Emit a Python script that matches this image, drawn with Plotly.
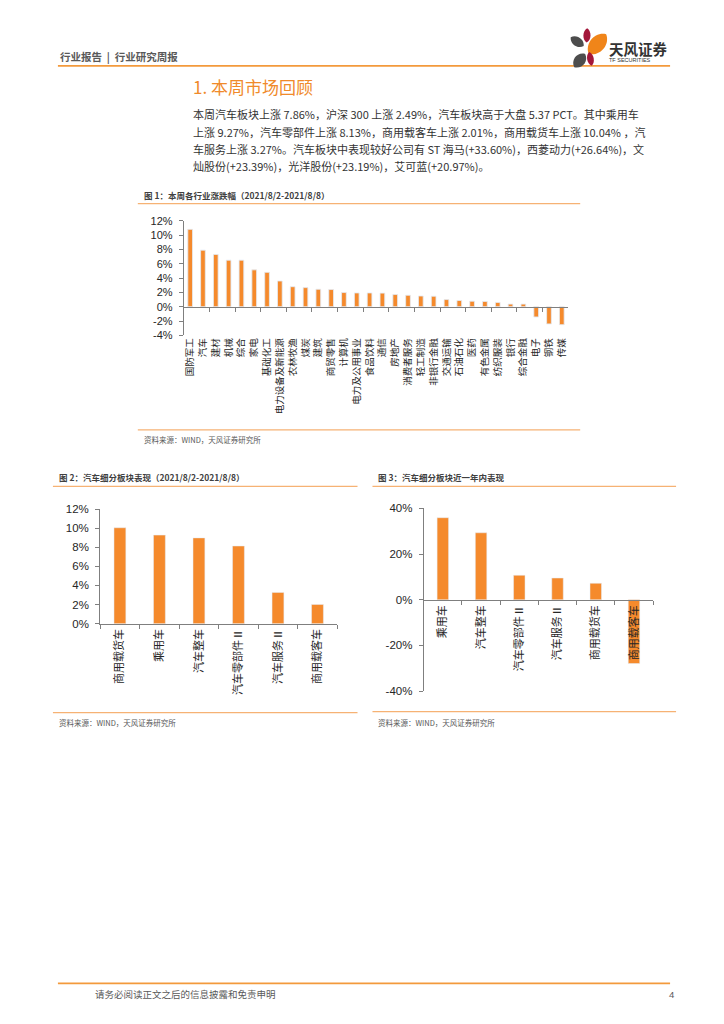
import math
import plotly.graph_objects as go

W, H = 724, 1024
ORANGE = "#F58A2C"
LINE_OR = "#F39A3C"
LIGHT_OR = "#F6B274"
CJK = "Noto Sans CJK SC"
LAT = "Liberation Sans"
AXIS_C = "#7F7F7F"

# ---------------- data ----------------
ind_cats = ["国防军工", "汽车", "建材", "机械", "综合", "家电", "基础化工", "电力设备及新能源",
            "农林牧渔", "煤炭", "建筑", "商贸零售", "计算机", "电力及公用事业", "食品饮料", "通信",
            "房地产", "消费者服务", "轻工制造", "非银行金融", "交通运输", "石油石化", "医药",
            "有色金属", "纺织服装", "银行", "综合金融", "电子", "钢铁", "传媒"]
ind_vals = [10.8, 7.9, 7.3, 6.5, 6.5, 5.15, 4.8, 3.6, 2.8, 2.67, 2.44, 2.4, 1.98, 1.93, 1.93,
            1.9, 1.7, 1.6, 1.5, 1.47, 1.0, 0.87, 0.78, 0.74, 0.6, 0.37, 0.37, -1.43, -2.4, -2.5]

week_cats = ["商用载货车", "乘用车", "汽车整车", "汽车零部件Ⅱ", "汽车服务Ⅱ", "商用载客车"]
week_vals = [10.04, 9.27, 8.98, 8.13, 3.27, 2.01]

year_cats = ["乘用车", "汽车整车", "汽车零部件Ⅱ", "汽车服务Ⅱ", "商用载货车", "商用载客车"]
year_vals = [35.9, 29.3, 10.7, 9.5, 7.2, -27.9]

y1_ticks = [-4, -2, 0, 2, 4, 6, 8, 10, 12]
y2_ticks = [0, 2, 4, 6, 8, 10, 12]
y3_ticks = [-40, -20, 0, 20, 40]
y1_labels = ["-4%", "-2%", "0%", "2%", "4%", "6%", "8%", "10%", "12%"]
y2_labels = ["0%", "2%", "4%", "6%", "8%", "10%", "12%"]
y3_labels = ["-40%", "-20%", "0%", "20%", "40%"]

y1_range = [-4, 12]
y2_range = [0, 12]
y3_range = [-40, 40]

# ---------------- layout geometry (pixels) ----------------
def fx(x):
    return x / W

def fy(y):
    return 1 - y / H

c1 = dict(x0=183, x1=568, top=217.3, bot=333.3)
c2 = dict(x0=99.3, x1=336.7, top=509, bot=625)
c3 = dict(x0=423.3, x1=653, top=508.3, bot=693.3)

def xdom(c):
    return [fx(c["x0"]), fx(c["x1"])]

def ydom(c):
    return [fy(c["bot"]), fy(c["top"])]

def zero_pos(c, rng):
    d = ydom(c)
    return d[0] + (d[1] - d[0]) * (0 - rng[0]) / (rng[1] - rng[0])

fig = go.Figure()

fig.add_trace(go.Bar(x=ind_cats, y=ind_vals, marker_color=ORANGE, width=0.37,
                     xaxis="x", yaxis="y", showlegend=False))
# transparent copy only to carry the bottom category labels
fig.add_trace(go.Bar(x=ind_cats, y=ind_vals, marker_color="rgba(0,0,0,0)", width=0.37,
                     xaxis="x4", yaxis="y", showlegend=False, hoverinfo="skip"))
fig.add_trace(go.Bar(x=week_cats, y=week_vals, marker_color=ORANGE, width=0.3,
                     xaxis="x2", yaxis="y2", showlegend=False))
fig.add_trace(go.Bar(x=year_cats, y=year_vals, marker_color=ORANGE, width=0.3,
                     xaxis="x3", yaxis="y3", showlegend=False))

ytick_font = dict(family=LAT, size=11, color="#262626")
ytick_font2 = dict(family=LAT, size=11.5, color="#262626")

def yax(c, rng, ticks, labels, anchor, font):
    return dict(domain=ydom(c), anchor=anchor, range=rng, tickmode="array", tickvals=ticks,
                ticktext=labels, showline=True, linecolor=AXIS_C, linewidth=1, ticks="outside",
                ticklen=4, tickcolor=AXIS_C, showgrid=False, zeroline=False, tickfont=font,
                ticklabelstandoff=4, fixedrange=True)

fig.update_layout(
    width=W, height=H, margin=dict(l=0, r=0, t=0, b=0),
    paper_bgcolor="white", plot_bgcolor="white", showlegend=False,
    xaxis=dict(domain=xdom(c1), anchor="free", position=zero_pos(c1, y1_range), type="category",
               range=[-0.5, len(ind_cats) - 0.5], showline=True, linecolor=AXIS_C, linewidth=1,
               ticks="outside", tickson="boundaries", ticklen=4, tickcolor=AXIS_C,
               showticklabels=False, showgrid=False, zeroline=False),
    xaxis4=dict(domain=xdom(c1), anchor="y", overlaying="x", type="category",
                range=[-0.5, len(ind_cats) - 0.5], showline=False, ticks="",
                showticklabels=True, tickangle=-90, showgrid=False, zeroline=False,
                tickfont=dict(family=CJK, size=9.5, color="#262626")),
    yaxis=yax(c1, y1_range, y1_ticks, y1_labels, "x", ytick_font),
    xaxis2=dict(domain=xdom(c2), anchor="y2", type="category", showline=True,
                linecolor=AXIS_C, linewidth=1, ticks="outside", tickson="boundaries", ticklen=4,
                tickcolor=AXIS_C, tickangle=-90, showgrid=False, zeroline=False,
                tickfont=dict(family=CJK, size=11, color="#262626")),
    yaxis2=yax(c2, y2_range, y2_ticks, y2_labels, "x2", ytick_font2),
    xaxis3=dict(domain=xdom(c3), anchor="free", position=zero_pos(c3, y3_range), type="category",
                showline=True, linecolor=AXIS_C, linewidth=1, ticks="outside",
                tickson="boundaries", ticklen=4, tickcolor=AXIS_C, tickangle=-90,
                showgrid=False, zeroline=False,
                tickfont=dict(family=CJK, size=11, color="#262626")),
    yaxis3=yax(c3, y3_range, y3_ticks, y3_labels, "x3", ytick_font2),
)

# ---------------- page decoration ----------------
ann = []

def text(x, y, s, size, color, xanchor="left", family=CJK):
    ann.append(dict(x=fx(x), y=fy(y), xref="paper", yref="paper", text=s, showarrow=False,
                    xanchor=xanchor, yanchor="middle",
                    font=dict(size=size, color=color, family=family)))

shapes = []

def hline(x0, x1, y, color, width):
    shapes.append(dict(type="line", xref="paper", yref="paper", x0=fx(x0), x1=fx(x1),
                       y0=fy(y), y1=fy(y), line=dict(color=color, width=width)))

def leaf(p1, p2, w, color):
    (x1, y1), (x2, y2) = p1, p2
    dx, dy = x2 - x1, y2 - y1
    L = math.hypot(dx, dy)
    nx, ny = -dy / L, dx / L
    o = w * 0.68
    a1 = (x1 + dx * 0.2, y1 + dy * 0.2)
    a2 = (x1 + dx * 0.8, y1 + dy * 0.8)

    def P(x, y):
        return f"{fx(x):.5f},{fy(y):.5f}"

    path = (f"M {P(x1, y1)} "
            f"C {P(a1[0] + nx * o, a1[1] + ny * o)} {P(a2[0] + nx * o, a2[1] + ny * o)} {P(x2, y2)} "
            f"C {P(a2[0] - nx * o, a2[1] - ny * o)} {P(a1[0] - nx * o, a1[1] - ny * o)} {P(x1, y1)} Z")
    shapes.append(dict(type="path", xref="paper", yref="paper", path=path,
                       fillcolor=color, line=dict(width=0)))

# header
NB = "\u00a0"
text(57, 51, f"<b>行业报告{NB}{NB}|{NB}{NB}行业研究周报</b>", 10.5, "#595959")
hline(57, 670, 60.5, LINE_OR, 1.8)
# logo
leaf((586.5, 37), (587, 22.5), 7, "#A3173A")
leaf((583.5, 40.5), (570.5, 31.5), 9, "#4D4D4D")
leaf((588.5, 48.5), (606, 28.5), 15, "#F08519")
leaf((589, 46.5), (591.5, 60.5), 6.5, "#A3173A")
leaf((585, 48.5), (574, 62), 11, "#4D4D4D")
text(607, 43, "<b>天风证券</b>", 14.5, "#333333")
text(607, 55, "TF SECURITIES", 5.5, "#333333", family=LAT)

# section title and paragraph
text(190, 81, "1. 本周市场回顾", 17, "#F08A2A")
para = [
    "本周汽车板块上涨 7.86%，沪深 300 上涨 2.49%，汽车板块高于大盘 5.37 PCT。其中乘用车",
    "上涨 9.27%，汽车零部件上涨 8.13%，商用载客车上涨 2.01%，商用载货车上涨 10.04% ，汽",
    "车服务上涨 3.27%。汽车板块中表现较好公司有 ST 海马(+33.60%)，西菱动力(+26.64%)，文",
    "灿股份(+23.39%)，光洋股份(+23.19%)，艾可蓝(+20.97%)。",
]
for i, line in enumerate(para):
    text(190, 109.5 + i * 17.5, line, 11, "#333333")

# figure 1
text(141, 191, "<b>图 1：本周各行业涨跌幅（2021/8/2-2021/8/8）</b>", 8.5, "#404040")
hline(137, 580, 200, LIGHT_OR, 1.2)
hline(137, 580, 429, LIGHT_OR, 1.2)
text(141, 439, "资料来源：WIND，天风证券研究所", 7.5, "#595959")

# figure 2
text(56, 477, "<b>图 2：汽车细分板块表现（2021/8/2-2021/8/8）</b>", 8.5, "#404040")
hline(52, 357, 486, LIGHT_OR, 1.2)
hline(52, 357, 715, LIGHT_OR, 1.2)
text(56, 725, "资料来源：WIND，天风证券研究所", 7.5, "#595959")

# figure 3
text(376, 477, "<b>图 3：汽车细分板块近一年内表现</b>", 8.5, "#404040")
hline(372, 676, 486, LIGHT_OR, 1.2)
hline(372, 676, 714, LIGHT_OR, 1.2)
text(376, 725, "资料来源：WIND，天风证券研究所", 7.5, "#595959")

# footer
hline(57, 670, 989, LINE_OR, 1.8)
text(92, 1000, "请务必阅读正文之后的信息披露和免责申明", 9.5, "#595959")
text(676, 1000, "4", 9.5, "#595959", xanchor="right", family=LAT)

fig.update_layout(annotations=ann, shapes=shapes)

fig.write_html(
    "out.html",
    config={"displayModeBar": False},
    post_script="document.body.style.margin='0';document.body.style.overflow='hidden';",
)
